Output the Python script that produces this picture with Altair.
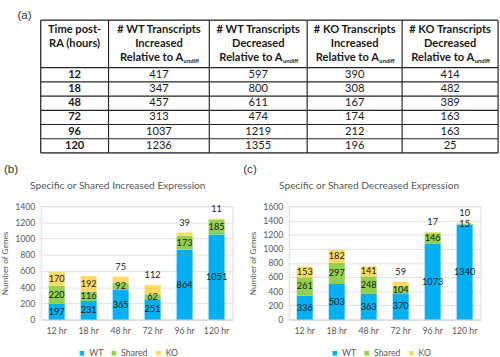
import altair as alt
import pandas as pd

# ---------------- data ----------------
times = [12, 18, 48, 72, 96, 120]
wt_increased = [417, 347, 457, 313, 1037, 1236]
wt_decreased = [597, 800, 611, 474, 1219, 1355]
ko_increased = [390, 308, 167, 174, 212, 196]
ko_decreased = [414, 482, 389, 163, 163, 25]

first_header = ["Time post-", "RA (hours)"]
col_header_top = ["# WT Transcripts", "# WT Transcripts", "# KO Transcripts", "# KO Transcripts"]
col_header_mid = ["Increased", "Decreased", "Increased", "Decreased"]
col_header_rel = "Relative to A"
col_header_sub = "undiff"

hours = ["12 hr", "18 hr", "48 hr", "72 hr", "96 hr", "120 hr"]
groups = ["WT", "Shared", "KO"]
inc_wt = [197, 231, 365, 251, 864, 1051]
inc_shared = [220, 116, 92, 62, 173, 185]
inc_ko = [170, 192, 75, 112, 39, 11]
dec_wt = [336, 503, 363, 370, 1073, 1340]
dec_shared = [261, 297, 248, 104, 146, 15]
dec_ko = [153, 182, 141, 59, 17, 10]

group_colors = ["#00B0F0", "#92D050", "#FFD966"]

# ---------------- layout constants ----------------
FONT = "Lato"
TXT = "#1a1a1a"
GREY = "#595959"
TABLE_W, TABLE_H = 472, 137
COL_W = [70, 104, 101, 98, 99]
HEADER_H = 49
ROW_H = (TABLE_H - HEADER_H) / len(times)
HEADER_LINE_Y = [10, 24.5, 39]
SUB_SHIFT = 25

edges = [0]
for w in COL_W:
    edges.append(edges[-1] + w)
centers = [(edges[i] + edges[i + 1]) / 2 for i in range(len(COL_W))]

xs = alt.Scale(domain=[0, TABLE_W], nice=False, zero=False)
ys = alt.Scale(domain=[0, TABLE_H], nice=False, zero=False, reverse=True)


def X(f):
    return alt.X(f, scale=xs, axis=None)


def Y(f):
    return alt.Y(f, scale=ys, axis=None)


# table lines
seg = [dict(x=e, x2=e, y=0, y2=TABLE_H) for e in edges]
hy = [0, HEADER_H] + [HEADER_H + ROW_H * (i + 1) for i in range(len(times))]
seg += [dict(x=0, x2=TABLE_W, y=v, y2=v) for v in hy]
rules = alt.Chart(pd.DataFrame(seg)).mark_rule(color="#262626", strokeWidth=1.2).encode(
    x=X("x:Q"), x2="x2:Q", y=Y("y:Q"), y2="y2:Q")

# header text
hdr = [dict(x=centers[0], y=HEADER_LINE_Y[k], text=t) for k, t in enumerate(first_header)]
for c in range(4):
    hdr.append(dict(x=centers[c + 1], y=HEADER_LINE_Y[0], text=col_header_top[c]))
    hdr.append(dict(x=centers[c + 1], y=HEADER_LINE_Y[1], text=col_header_mid[c]))
hdr_text = alt.Chart(pd.DataFrame(hdr)).mark_text(
    font=FONT, fontWeight="bold", fontSize=11.5, color=TXT, baseline="middle").encode(
    x=X("x:Q"), y=Y("y:Q"), text="text:N")

rel = pd.DataFrame([dict(x=centers[c + 1] + SUB_SHIFT, y=HEADER_LINE_Y[2]) for c in range(4)])
rel_text = alt.Chart(rel).mark_text(
    font=FONT, fontWeight="bold", fontSize=11.5, color=TXT, baseline="middle", align="right").encode(
    x=X("x:Q"), y=Y("y:Q"), text=alt.value(col_header_rel))
sub_text = alt.Chart(rel).mark_text(
    font=FONT, fontWeight="bold", fontSize=6, color=TXT, baseline="middle", align="left", dy=3, dx=0.5).encode(
    x=X("x:Q"), y=Y("y:Q"), text=alt.value(col_header_sub))

body = []
for i, t in enumerate(times):
    yy = HEADER_H + (i + 0.5) * ROW_H
    body.append(dict(x=centers[0], y=yy, text=str(t), bold=1))
    for c, col in enumerate([wt_increased, wt_decreased, ko_increased, ko_decreased]):
        body.append(dict(x=centers[c + 1], y=yy, text=str(col[i]), bold=0))
body = pd.DataFrame(body)
body_bold = alt.Chart(body).transform_filter("datum.bold == 1").mark_text(
    font=FONT, fontWeight="bold", fontSize=11.5, color=TXT, baseline="middle").encode(
    x=X("x:Q"), y=Y("y:Q"), text="text:N")
body_reg = alt.Chart(body).transform_filter("datum.bold == 0").mark_text(
    font=FONT, fontSize=11.5, color=TXT, baseline="middle").encode(
    x=X("x:Q"), y=Y("y:Q"), text="text:N")

letter_a = alt.Chart(pd.DataFrame({"t": ["(a)"]})).mark_text(
    font="Liberation Sans", fontSize=12, align="left", baseline="middle", color="#333333").encode(
    x=alt.value(-24), y=alt.value(-5), text="t:N")

table = alt.layer(rules, hdr_text, rel_text, sub_text, body_bold, body_reg, letter_a).properties(
    width=TABLE_W, height=TABLE_H)


# ---------------- bar panels ----------------
def bar_panel(wt, shared, ko, ymax, title, letter, letter_dx, title_dx, legend_x):
    rows = []
    for gi, (g, vals) in enumerate(zip(groups, [wt, shared, ko])):
        for h, v in zip(hours, vals):
            rows.append(dict(hour=h, group=g, value=v, order=gi))
    df = pd.DataFrame(rows)
    base = alt.Chart(df).transform_stack(
        stack="value", groupby=["hour"], as_=["y0", "y1"],
        sort=[alt.SortField("order", order="ascending")]
    ).transform_calculate(mid="(datum.y0 + datum.y1) / 2")

    xenc = alt.X("hour:N", sort=hours,
                 scale=alt.Scale(paddingInner=0.5, paddingOuter=0.25),
                 axis=alt.Axis(title=None, labelAngle=0, labelFont=FONT, labelFontSize=9,
                               labelColor=GREY, labelPadding=7, ticks=False,
                               domainColor="#d9d9d9", grid=False))
    yscale = alt.Scale(domain=[0, ymax], nice=False)
    yaxis = alt.Axis(values=list(range(0, ymax + 1, 200)), format="d", title="Number of Genes",
                     titleFont=FONT, titleFontSize=8.5, titleFontWeight="normal", titleColor=GREY,
                     titlePadding=5, labelFont=FONT, labelFontSize=9, labelColor=GREY,
                     labelPadding=6, ticks=False, domain=False, gridColor="#d9d9d9",
                     gridWidth=0.8)
    bars = base.mark_bar().encode(
        x=xenc,
        y=alt.Y("y0:Q", scale=yscale, axis=yaxis),
        y2="y1:Q",
        color=alt.Color("group:N", scale=alt.Scale(domain=groups, range=group_colors),
                        legend=alt.Legend(orient="none", legendX=legend_x, legendY=147,
                                          direction="horizontal", title=None,
                                          symbolType="square", symbolSize=22,
                                          symbolStrokeWidth=0, labelFont=FONT,
                                          labelFontSize=9, labelColor=GREY,
                                          labelOffset=3, columnPadding=6)))
    inside = base.transform_filter("datum.group != 'KO' || datum.value >= 120").mark_text(
        font=FONT, fontSize=9.5, color=TXT, baseline="middle").encode(
        x=xenc, y=alt.Y("mid:Q", scale=yscale, axis=yaxis), text="value:Q")
    above = base.transform_filter("datum.group == 'KO' && datum.value < 120").mark_text(
        font=FONT, fontSize=9.5, color=TXT, baseline="bottom", dy=-5).encode(
        x=xenc, y=alt.Y("y1:Q", scale=yscale, axis=yaxis), text="value:Q")
    letter_l = alt.Chart(pd.DataFrame({"t": [letter]})).mark_text(
        font="Liberation Sans", fontSize=12, align="left", baseline="middle", color="#333333").encode(
        x=alt.value(letter_dx), y=alt.value(-38), text="t:N")
    title_l = alt.Chart(pd.DataFrame({"t": [title]})).mark_text(
        font=FONT, fontSize=10.5, align="left", baseline="middle", color=GREY).encode(
        x=alt.value(title_dx), y=alt.value(-21), text="t:N")
    return alt.layer(bars, inside, above, letter_l, title_l).properties(width=198, height=117)


chart_b = bar_panel(inc_wt, inc_shared, inc_ko, 1400, "Specific or Shared Increased Expression",
                    "(b)", -38, -11, 38)
chart_c = bar_panel(dec_wt, dec_shared, dec_ko, 1600, "Specific or Shared Decreased Expression",
                    "(c)", -47, -10, 43)

row2 = alt.hconcat(chart_b, chart_c, spacing=9).resolve_scale(
    color="independent", y="independent", x="independent").resolve_legend(color="independent")

chart = alt.vconcat(table, row2, spacing=8).properties(
    padding={"left": 0, "top": 3, "right": 0, "bottom": 0}
).configure_view(strokeWidth=0).configure(font=FONT)

chart.save("out.html", embed_options={"renderer": "svg", "actions": False})
